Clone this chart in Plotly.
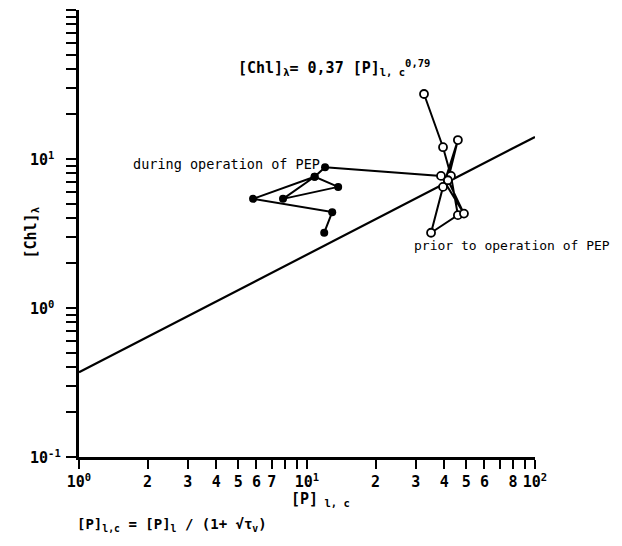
import numpy as np
import plotly.graph_objects as go

# --- data ---
during_x = [12.0, 10.8, 13.7, 7.85, 10.8, 5.8, 12.9, 11.9]
during_y = [8.8, 7.6, 6.5, 5.4, 7.6, 5.4, 4.4, 3.2]

prior_x = [32.6, 39.5, 42.8, 45.9, 35.0, 39.5, 45.9, 41.5, 48.8, 38.7]
prior_y = [27.3, 12.0, 7.7, 4.2, 3.2, 6.5, 13.4, 7.2, 4.3, 7.7]

fit_coef = 0.37
fit_exp = 0.79
fit_x = [1.0, 100.0]
fit_y = [fit_coef * v ** fit_exp for v in fit_x]

# tick definitions
x_label_vals = [1, 2, 3, 4, 5, 6, 7, 10, 20, 30, 40, 50, 60, 80, 100]
x_label_text = ["10<sup>0</sup>", "2", "3", "4", "5", "6", "7",
                "10<sup>1</sup>", "2", "3", "4", "5", "6", "8",
                "10<sup>2</sup>"]
x_minor_vals = [8, 9, 70, 90]
y_major_vals = [0.1, 1, 10, 100]
y_minor_vals = [m * 10 ** d for d in range(-1, 2) for m in range(2, 10)]
y_label_vals = [0.1, 1, 10]
y_label_text = ["10<sup>-1</sup>", "10<sup>0</sup>", "10<sup>1</sup>"]

FONT = "DejaVu Sans Mono"
fig = go.Figure()

# prior path, joined to the first point of the "during" path
fig.add_trace(go.Scatter(
    x=prior_x + [during_x[0]], y=prior_y + [during_y[0]],
    mode="lines", line=dict(color="black", width=2), hoverinfo="skip",
    showlegend=False))
fig.add_trace(go.Scatter(
    x=fit_x, y=fit_y, mode="lines", line=dict(color="black", width=2.2),
    showlegend=False))
fig.add_trace(go.Scatter(
    x=during_x, y=during_y, mode="lines+markers",
    line=dict(color="black", width=2),
    marker=dict(size=8, color="black"), showlegend=False))
fig.add_trace(go.Scatter(
    x=prior_x, y=prior_y, mode="markers",
    marker=dict(size=8, color="white", line=dict(color="black", width=1.8)),
    showlegend=False))

fig.update_xaxes(
    type="log", range=[0, 2], tickmode="array",
    tickvals=x_label_vals, ticktext=x_label_text,
    ticks="outside", ticklen=9, tickwidth=2, tickcolor="black",
    minor=dict(tickmode="array", tickvals=x_minor_vals, ticks="outside",
               ticklen=9, tickwidth=2, tickcolor="black", showgrid=False),
    showline=True, linewidth=3, linecolor="black", showgrid=False,
    zeroline=False, tickangle=0, automargin=False,
    tickfont=dict(family=FONT, size=15, color="black", weight="bold"))
fig.update_yaxes(
    type="log", range=[-1, 2], tickmode="array", tickvals=y_major_vals,
    showticklabels=False,
    ticks="outside", ticklen=10, tickwidth=2, tickcolor="black",
    minor=dict(tickmode="array", tickvals=y_minor_vals, ticks="outside",
               ticklen=10, tickwidth=2, tickcolor="black", showgrid=False),
    showline=True, linewidth=3, linecolor="black", showgrid=False,
    zeroline=False, automargin=False)

ann_font = dict(family=FONT, size=13.5, color="black")
big_font = dict(family=FONT, size=15, color="black", weight="bold")
annotations = [
    dict(text="[Chl]<sub>λ</sub>= 0,37 [P]<sub>l, c</sub><sup>0,79</sup>",
         xref="paper", yref="paper", x=0.56, y=0.872, showarrow=False,
         xanchor="center", yanchor="middle", font=big_font),
    dict(text="during operation of PEP", xref="x", yref="paper",
         x=np.log10(11.6), y=0.655, xanchor="right", yanchor="middle",
         showarrow=False, font=ann_font),
    dict(text="prior to operation of PEP", xref="paper", yref="paper",
         x=1.0, y=0.474, xanchor="right", yanchor="middle", xshift=77,
         showarrow=False, font=dict(family=FONT, size=13, color="black")),
    dict(text="[Chl]<sub>λ</sub>", xref="paper", yref="paper",
         x=0, y=0.5, xshift=-48, xanchor="center", yanchor="middle",
         textangle=-90, showarrow=False, font=big_font),
    dict(text="[P]<sub> l, c</sub>", xref="paper", yref="paper",
         x=0.53, y=0, yshift=-42, xanchor="center", yanchor="middle",
         showarrow=False, font=big_font),
    dict(text="[P]<sub>l,c</sub> = [P]<sub>l</sub> / (1+ √τ<sub>v</sub>)",
         xref="paper", yref="paper", x=0, y=0, xshift=-4, yshift=-68,
         xanchor="left", yanchor="middle", showarrow=False,
         font=dict(family=FONT, size=14, color="black", weight="bold")),
]
for v, t in zip(y_label_vals, y_label_text):
    annotations.append(dict(
        text=t, xref="paper", yref="y", x=0, y=np.log10(v), xshift=-51,
        xanchor="left", yanchor="middle", showarrow=False, font=big_font))

fig.update_layout(
    width=622, height=546,
    margin=dict(l=71, r=95, t=2, b=97),
    paper_bgcolor="white", plot_bgcolor="white",
    annotations=annotations,
)

fig.write_html("out.html")
